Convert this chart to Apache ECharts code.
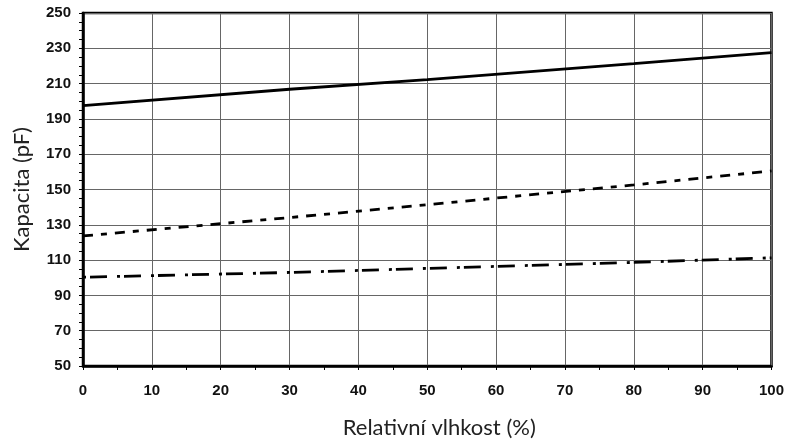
<!DOCTYPE html>
<html>
<head>
<meta charset="utf-8">
<script src="https://cdn.jsdelivr.net/npm/echarts@6/dist/echarts.min.js"></script>
<style>html,body{margin:0;padding:0;background:#fff}#c{width:787px;height:444px}</style>
</head>
<body>
<div id="c"></div>
<script>
const xValues = [0, 30, 50, 80, 100];
const solidSeries = [197.5, 206.8, 212.2, 221.3, 227.6];
const dashedSeries = [123.7, 134.1, 141.4, 152.6, 160.5];
const dashDotSeries = [100.3, 103.0, 105.3, 108.7, 111.3];
const xName = 'Relativní vlhkost (%)';
const yName = 'Kapacita (pF)';

const pairs = ys => xValues.map((x, i) => [x, ys[i]]);
const chart = echarts.init(document.getElementById('c'));
const lineBase = { type: 'line', showSymbol: false, symbol: 'none', smooth: false, animation: false };
chart.setOption({
  animation: false,
  grid: { left: 83, right: 15, top: 13, bottom: 75, show: true, borderColor: '#000', borderWidth: 2.5, backgroundColor: 'transparent' },
  xAxis: {
    type: 'value', min: 0, max: 100, interval: 10,
    name: xName, nameLocation: 'middle', nameGap: 51,
    nameTextStyle: { fontFamily: 'Lato', fontSize: 22, color: '#222', padding: [0, 0, 0, 24] },
    axisLine: { show: true, lineStyle: { color: '#000', width: 2.5 } },
    axisTick: { show: true, length: 4, lineStyle: { color: '#000' } },
    minorTick: { show: true, splitNumber: 2, length: 4, lineStyle: { color: '#000' } },
    axisLabel: { fontFamily: 'Liberation Sans', fontWeight: 'bold', fontSize: 15, color: '#111', margin: 17 },
    splitLine: { show: true, lineStyle: { color: '#666', width: 1 } }
  },
  yAxis: {
    type: 'value', min: 50, max: 250, interval: 20,
    name: yName, nameLocation: 'middle', nameGap: 50,
    nameTextStyle: { fontFamily: 'Lato', fontSize: 22, color: '#222' },
    axisLine: { show: true, lineStyle: { color: '#000', width: 2.5 } },
    axisTick: { show: true, length: 4, lineStyle: { color: '#000' } },
    minorTick: { show: true, splitNumber: 4, length: 4, lineStyle: { color: '#000' } },
    axisLabel: { fontFamily: 'Liberation Sans', fontWeight: 'bold', fontSize: 15, color: '#111', margin: 12 },
    splitLine: { show: true, lineStyle: { color: '#666', width: 1 } }
  },
  series: [
    Object.assign({}, lineBase, { name: 'solid', data: pairs(solidSeries), lineStyle: { color: '#000', width: 2.8, type: 'solid' } }),
    Object.assign({}, lineBase, { name: 'dashed', data: pairs(dashedSeries), lineStyle: { color: '#000', width: 2.8, type: [10, 8, 6, 8] } }),
    Object.assign({}, lineBase, { name: 'dashdot', data: pairs(dashDotSeries), lineStyle: { color: '#000', width: 2.8, type: [3, 4, 17, 10] } })
  ]
});
</script>
</body>
</html>
